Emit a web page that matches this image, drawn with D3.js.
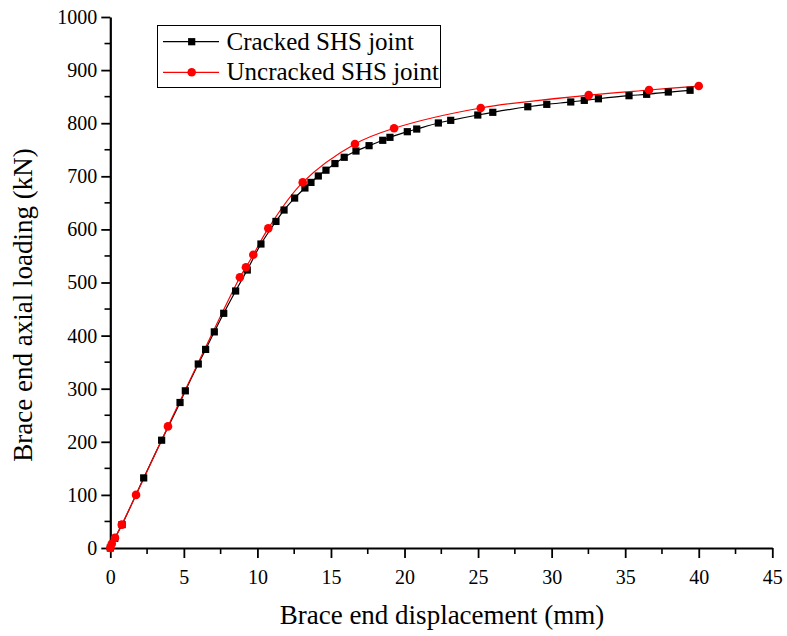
<!DOCTYPE html>
<html><head><meta charset="utf-8">
<script src="https://cdn.jsdelivr.net/npm/d3@7"></script>
<style>body{margin:0;background:#fff}svg{display:block}svg text{font-family:'Liberation Serif','Times New Roman',Times,'DejaVu Serif',serif !important;fill:#000}</style>
</head><body><svg id="c" width="787" height="636"></svg>
<script>
const crackedX = [0,0.3,0.8,2.27,3.49,4.74,5.1,5.98,6.48,7.07,7.71,8.52,9.31,10.24,11.26,11.81,12.53,13.23,13.64,14.14,14.66,15.27,15.9,16.7,17.59,18.52,19.01,20.19,20.83,22.3,23.14,24.98,26.0,28.38,29.67,31.3,32.22,33.18,35.26,36.46,37.93,39.41];
const crackedY = [0,18,44,132,203,274,296,346.5,374,407,442,484,523.5,572.5,615,636.5,659,678,688.5,700.6,711.5,724,735.8,747.6,757.7,767.8,773.4,784,789,800.4,805.4,815.4,820.5,831,835.5,840,843,846,851.8,854.4,858.7,862];
const uncrackedX = [0,0.1,0.32,0.78,1.75,3.92,8.81,9.22,9.72,10.74,13.08,16.63,19.29,25.18,32.52,36.62,40.0];
const uncrackedY = [0,8,19,44,100,229,510,528.6,552.4,602,688.5,760.8,790.4,828.6,852.8,862.5,870];
const xTicks = [0,5,10,15,20,25,30,35,40,45];
const yTicks = [0,100,200,300,400,500,600,700,800,900,1000];
const seriesNames = ["Cracked SHS joint","Uncracked SHS joint"];

const FONT = "'Liberation Serif','Times New Roman',Times,'DejaVu Serif',serif";
const svg = d3.select("#c");
const x = d3.scaleLinear().domain([0,45]).range([110.3,772.3]);
const y = d3.scaleLinear().domain([0,1000]).range([548,17]);

const g = svg.append("g");
const xMinor = d3.range(2.5,45,5);
const yMinor = d3.range(50,1000,100);
g.selectAll(".xm").data(xMinor).enter().append("line")
 .attr("x1",d=>x(d)).attr("x2",d=>x(d)).attr("y1",548).attr("y2",554).attr("stroke","#000").attr("stroke-width",1.6);
g.selectAll(".ym").data(yMinor).enter().append("line")
 .attr("y1",d=>y(d)).attr("y2",d=>y(d)).attr("x1",110.3).attr("x2",104.5).attr("stroke","#000").attr("stroke-width",1.6);

const xAxis = svg.append("g").attr("transform","translate(0,548)")
 .call(d3.axisBottom(x).tickValues(xTicks).tickFormat(d3.format("d")).tickSize(10).tickPadding(12).tickSizeOuter(0));
const yAxis = svg.append("g").attr("transform","translate(110.3,0)")
 .call(d3.axisLeft(y).tickValues(yTicks).tickFormat(d3.format("d")).tickSize(9).tickPadding(4).tickSizeOuter(0));
[xAxis,yAxis].forEach(a=>{
  a.attr("font-family",FONT).attr("font-size",20);
  a.select(".domain").attr("stroke","#000").attr("stroke-width",2.2);
  a.selectAll(".tick line").attr("stroke","#000").attr("stroke-width",1.8);
  a.selectAll("text").attr("fill","#000");
});
xAxis.selectAll("text").attr("dy","0.71em");

svg.append("text").attr("x",442).attr("y",624).attr("text-anchor","middle").attr("font-family",FONT).attr("font-size",27).text("Brace end displacement (mm)");
svg.append("text").attr("transform","translate(32,305) rotate(-90)").attr("text-anchor","middle").attr("font-family",FONT).attr("font-size",27).text("Brace end axial loading (kN)");

const line = d3.line().x(d=>x(d[0])).y(d=>y(d[1])).curve(d3.curveCatmullRom.alpha(0.5));
const cData = crackedX.map((v,i)=>[v,crackedY[i]]);
const uData = uncrackedX.map((v,i)=>[v,uncrackedY[i]]);

svg.append("path").attr("d",line(cData)).attr("fill","none").attr("stroke","#000").attr("stroke-width",1.2);
svg.append("path").attr("d",line(uData)).attr("fill","none").attr("stroke","#ff0000").attr("stroke-width",1.2);

svg.selectAll(".sq").data(cData).enter().append("rect")
 .attr("x",d=>x(d[0])-3.6).attr("y",d=>y(d[1])-3.6).attr("width",7.2).attr("height",7.2).attr("fill","#000");
svg.selectAll(".ci").data(uData).enter().append("circle")
 .attr("cx",d=>x(d[0])).attr("cy",d=>y(d[1])).attr("r",4.3).attr("fill","#ff0000");

const lg = svg.append("g");
lg.append("rect").attr("x",157.5).attr("y",25.5).attr("width",283).attr("height",62).attr("fill","#fff").attr("stroke","#000").attr("stroke-width",1);
const rows = [{n:seriesNames[0],c:"#000",yy:41.7},{n:seriesNames[1],c:"#ff0000",yy:72.3}];
rows.forEach((r,i)=>{
  lg.append("line").attr("x1",163).attr("x2",219).attr("y1",r.yy).attr("y2",r.yy).attr("stroke",r.c).attr("stroke-width",1.2);
  if(i===0) lg.append("rect").attr("x",191.7-3.6).attr("y",r.yy-3.6).attr("width",7.2).attr("height",7.2).attr("fill","#000");
  else lg.append("circle").attr("cx",191.7).attr("cy",r.yy).attr("r",4.3).attr("fill","#ff0000");
  lg.append("text").attr("x",226.5).attr("y",r.yy+8).attr("font-family",FONT).attr("font-size",25).text(r.n);
});
</script></body></html>
